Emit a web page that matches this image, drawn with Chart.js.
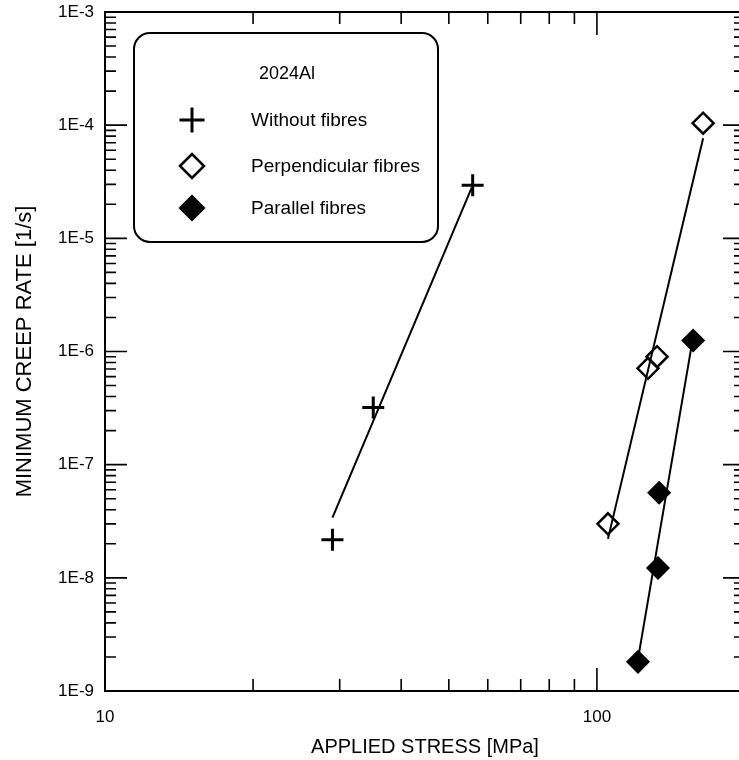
<!DOCTYPE html>
<html>
<head>
<meta charset="utf-8">
<script src="https://cdn.jsdelivr.net/npm/chart.js@4.4.0/dist/chart.umd.min.js"></script>
<style>
  html, body { margin: 0; padding: 0; background: #fff; overflow: hidden; }
  #wrap { width: 746px; height: 760px; }
  #chart { display: block; width: 746px; height: 760px; }
</style>
</head>
<body>
<div id="wrap"><canvas id="chart" width="746" height="760"></canvas></div>
<script>
// stress in MPa, minimum creep rate in 1/s
const noFibreStress = [29.0, 35.1, 55.9];
const noFibreRate = [2.17e-8, 3.2e-7, 2.95e-5];
const perpStress = [105.3, 127.0, 132.5, 164.4];
const perpRate = [3.0e-8, 7.1e-7, 9.0e-7, 1.04e-4];
const paraStress = [121.2, 133.1, 133.8, 156.9];
const paraRate = [1.81e-9, 1.22e-8, 5.65e-8, 1.25e-6];

// fitted lines (end points)
const noFibreFitStress = [29.0, 55.9];
const noFibreFitRate = [3.4e-8, 2.94e-5];
const perpFitStress = [105.3, 164.4];
const perpFitRate = [2.21e-8, 7.67e-5];
const paraFitStress = [121.8, 155.4];
const paraFitRate = [2.17e-9, 1.06e-6];

const xMin = 10, xMax = 200;
const yMin = 1e-9, yMax = 1e-3;

const legendTitle = "2024Al";
const seriesNames = ["Without fibres", "Perpendicular fibres", "Parallel fibres"];

const FONT = "'Liberation Sans', Arial, sans-serif";

function pts(xs, ys) {
  return xs.map((x, i) => ({ x: x, y: ys[i] }));
}

function isDecade(v) {
  const e = Math.log10(v);
  return Math.abs(e - Math.round(e)) < 1e-6;
}

// 1,2,...,9 times a power of ten (skips the 1.5 ticks chart.js adds)
function isWholeMantissa(v) {
  const m = v / Math.pow(10, Math.floor(Math.log10(v) + 1e-9));
  return Math.abs(m - Math.round(m)) < 1e-6;
}

Chart.defaults.font.family = FONT;
Chart.defaults.color = "#000";

// frame with inward ticks on all four sides
const framePlugin = {
  id: "frame",
  afterDatasetsDraw(chart) {
    const { ctx, chartArea: a, scales } = chart;
    ctx.save();
    ctx.strokeStyle = "#000";
    ctx.lineWidth = 2;
    ctx.strokeRect(a.left, a.top, a.right - a.left, a.bottom - a.top);
    ctx.beginPath();
    scales.x.ticks.forEach(t => {
      if (!isWholeMantissa(t.value)) return;
      const px = scales.x.getPixelForValue(t.value);
      const len = isDecade(t.value) ? 23 : 12;
      ctx.moveTo(px, a.bottom); ctx.lineTo(px, a.bottom - len);
      ctx.moveTo(px, a.top); ctx.lineTo(px, a.top + len);
    });
    scales.y.ticks.forEach(t => {
      if (!isWholeMantissa(t.value)) return;
      const py = scales.y.getPixelForValue(t.value);
      const len = isDecade(t.value) ? 22 : 11;
      ctx.moveTo(a.left, py); ctx.lineTo(a.left + len, py);
      ctx.moveTo(a.right, py); ctx.lineTo(a.right - len, py);
    });
    ctx.lineWidth = 1.6;
    ctx.stroke();
    ctx.restore();
  }
};

// boxed legend in the upper left
const legendPlugin = {
  id: "boxLegend",
  afterDraw(chart) {
    const ctx = chart.ctx;
    const bx = 134, by = 33, bw = 304, bh = 209, r = 16;
    ctx.save();
    ctx.fillStyle = "#fff";
    ctx.strokeStyle = "#000";
    ctx.lineWidth = 2;
    ctx.beginPath();
    ctx.roundRect(bx, by, bw, bh, r);
    ctx.fill();
    ctx.stroke();

    ctx.fillStyle = "#000";
    ctx.font = "18px " + FONT;
    ctx.textBaseline = "middle";
    ctx.textAlign = "center";
    ctx.fillText(legendTitle, 287, 74);

    const rows = [120, 166, 208];
    const sets = [1, 3, 5];
    ctx.font = "19px " + FONT;
    ctx.textAlign = "left";
    rows.forEach((y, i) => {
      const ds = chart.data.datasets[sets[i]];
      ctx.strokeStyle = "#000";
      ctx.fillStyle = ds.pointBackgroundColor;
      ctx.lineWidth = ds.pointBorderWidth;
      Chart.helpers.drawPoint(ctx, { pointStyle: ds.pointStyle, radius: ds.pointRadius + 1.5, borderWidth: ds.pointBorderWidth }, 192, y);
      ctx.fillStyle = "#000";
      ctx.fillText(seriesNames[i], 251, y + 1);
    });
    ctx.restore();
  }
};

const lineStyle = {
  showLine: true,
  borderColor: "#000",
  borderWidth: 2,
  pointRadius: 0,
  fill: false
};

new Chart(document.getElementById("chart"), {
  type: "scatter",
  data: {
    datasets: [
      Object.assign({ label: "fit1", data: pts(noFibreFitStress, noFibreFitRate) }, lineStyle),
      {
        label: seriesNames[0],
        data: pts(noFibreStress, noFibreRate),
        pointStyle: "cross",
        pointRadius: 11,
        pointBorderWidth: 3,
        pointBorderColor: "#000",
        pointBackgroundColor: "#000"
      },
      Object.assign({ label: "fit2", data: pts(perpFitStress, perpFitRate) }, lineStyle),
      {
        label: seriesNames[1],
        data: pts(perpStress, perpRate),
        pointStyle: "rectRot",
        pointRadius: 10.5,
        pointBorderWidth: 2.5,
        pointBorderColor: "#000",
        pointBackgroundColor: "rgba(0,0,0,0)"
      },
      Object.assign({ label: "fit3", data: pts(paraFitStress, paraFitRate) }, lineStyle),
      {
        label: seriesNames[2],
        data: pts(paraStress, paraRate),
        pointStyle: "rectRot",
        pointRadius: 11,
        pointBorderWidth: 1.5,
        pointBorderColor: "#000",
        pointBackgroundColor: "#000"
      }
    ]
  },
  options: {
    responsive: false,
    devicePixelRatio: 1,
    animation: false,
    layout: { autoPadding: false, padding: { top: 12, right: 1, left: 0, bottom: 0 } },
    plugins: { legend: { display: false }, tooltip: { enabled: false } },
    scales: {
      x: {
        type: "logarithmic",
        min: xMin,
        max: xMax,
        grid: { display: false, drawTicks: false },
        border: { display: false },
        ticks: {
          autoSkip: false,
          maxRotation: 0,
          padding: 16,
          font: { size: 17 },
          callback: v => (isDecade(v) ? String(Math.round(v)) : "")
        },
        title: {
          display: true,
          text: "APPLIED STRESS [MPa]",
          font: { size: 20, lineHeight: 1 },
          padding: { top: 0, bottom: 3 }
        },
        afterFit: s => { s.height = 69; s.paddingLeft = 0; s.paddingRight = 0; }
      },
      y: {
        type: "logarithmic",
        min: yMin,
        max: yMax,
        grid: { display: false, drawTicks: false },
        border: { display: false },
        ticks: {
          autoSkip: false,
          padding: 11,
          font: { size: 17 },
          callback: v => (isDecade(v) ? "1E" + Math.round(Math.log10(v)) : "")
        },
        title: {
          display: true,
          text: "MINIMUM CREEP RATE [1/s]",
          font: { size: 22, lineHeight: 1 },
          padding: { top: 14, bottom: 0 }
        },
        afterFit: s => { s.width = 105; s.paddingTop = 0; s.paddingBottom = 0; }
      }
    }
  },
  plugins: [framePlugin, legendPlugin]
});
</script>
</body>
</html>
